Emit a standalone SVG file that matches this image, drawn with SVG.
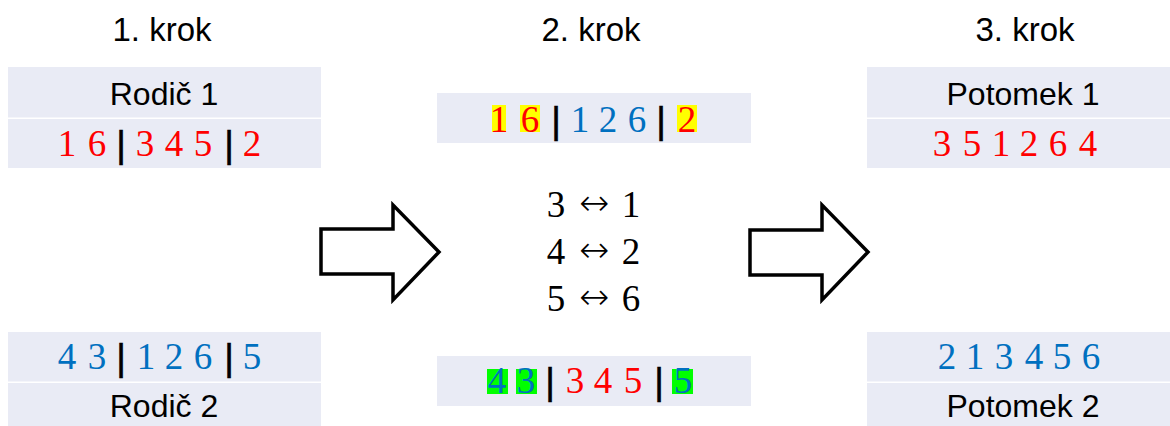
<svg xmlns="http://www.w3.org/2000/svg" width="1170" height="426" viewBox="0 0 1170 426">
<style>
.box{fill:#E9EBF5}
.lbl{font-family:"Liberation Sans",Arial,sans-serif;font-size:32px;fill:#000;text-anchor:middle}
.ttl{font-family:"Liberation Sans",Arial,sans-serif;font-size:33px;fill:#000;text-anchor:middle}
.d{font-family:"Liberation Serif","Times New Roman",serif;font-size:37px;text-anchor:middle}
.r{fill:#FF0000}
.b{fill:#0070C0}
.bar{font-family:"Liberation Sans",Arial,sans-serif;font-size:37px;fill:#000;stroke:#000;stroke-width:0.6;text-anchor:middle}
.hy{fill:#FFFF00}
.hg{fill:#00FF00}
.arrow{fill:#fff;stroke:#000;stroke-width:3.5;stroke-linejoin:miter}
.sw{font-family:"Liberation Serif","DejaVu Serif",serif;font-size:37px;fill:#000;text-anchor:middle}
.ar{font-family:"DejaVu Sans",sans-serif;font-weight:200;font-size:36px;fill:#000;text-anchor:middle}
</style>
<rect width="1170" height="426" fill="#fff"/>

<g id="titles">
<text class="ttl" x="162" y="41">1. krok</text>
<text class="ttl" x="591" y="41">2. krok</text>
<text class="ttl" x="1025" y="41">3. krok</text>
</g>

<g id="parent1">
<rect class="box" x="8" y="67" width="313" height="50.5"/>
<rect class="box" x="8" y="119" width="313" height="49"/>
<text class="lbl" x="164" y="105">Rodič 1</text>
<g class="d r">
<text x="67" y="156">1</text><text x="97" y="156">6</text>
<text x="145" y="156">3</text><text x="174" y="156">4</text><text x="203" y="156">5</text>
<text x="252" y="156">2</text>
</g>
<text class="bar" x="121" y="157">|</text>
<text class="bar" x="229" y="157">|</text>
</g>

<g id="parent2">
<rect class="box" x="8" y="332" width="313" height="49.5"/>
<rect class="box" x="8" y="383" width="313" height="50"/>
<g class="d b">
<text x="67" y="369">4</text><text x="97" y="369">3</text>
<text x="146" y="369">1</text><text x="174" y="369">2</text><text x="203" y="369">6</text>
<text x="252" y="369">5</text>
</g>
<text class="bar" x="121" y="370">|</text>
<text class="bar" x="229" y="370">|</text>
<text class="lbl" x="164" y="417">Rodič 2</text>
</g>

<g id="mid-top">
<rect class="box" x="437" y="93" width="314" height="50"/>
<rect class="hy" x="492" y="105" width="14" height="27"/>
<rect class="hy" x="520" y="105" width="20" height="27"/>
<rect class="hy" x="677" y="105" width="20" height="27"/>
<g class="d">
<text class="r" x="499" y="132">1</text><text class="r" x="530" y="132">6</text>
<text class="b" x="580" y="132">1</text><text class="b" x="608" y="132">2</text><text class="b" x="637" y="132">6</text>
<text class="r" x="687" y="132">2</text>
</g>
<text class="bar" x="556" y="133">|</text>
<text class="bar" x="661" y="133">|</text>
</g>

<g id="swaps">
<text class="sw" x="556" y="217">3</text><text class="ar" x="594" y="215">↔</text><text class="sw" x="631" y="217">1</text>
<text class="sw" x="556" y="264">4</text><text class="ar" x="594" y="262">↔</text><text class="sw" x="631" y="264">2</text>
<text class="sw" x="556" y="311">5</text><text class="ar" x="594" y="309">↔</text><text class="sw" x="631" y="311">6</text>
</g>

<g id="mid-bottom">
<rect class="box" x="437" y="356" width="314" height="50"/>
<rect class="hg" x="487" y="369" width="21" height="25"/>
<rect class="hg" x="516" y="369" width="21" height="25"/>
<rect class="hg" x="672" y="369" width="21" height="25"/>
<g class="d">
<text class="b" x="497" y="393">4</text><text class="b" x="526" y="393">3</text>
<text class="r" x="575" y="393">3</text><text class="r" x="603" y="393">4</text><text class="r" x="633" y="393">5</text>
<text class="b" x="683" y="393">5</text>
</g>
<text class="bar" x="550" y="394">|</text>
<text class="bar" x="659" y="394">|</text>
</g>

<g id="child1">
<rect class="box" x="867" y="67" width="303" height="50.5"/>
<rect class="box" x="867" y="119" width="303" height="49"/>
<text class="lbl" x="1023" y="105">Potomek 1</text>
<g class="d r">
<text x="942" y="156">3</text><text x="972" y="156">5</text><text x="1001" y="156">1</text>
<text x="1029" y="156">2</text><text x="1058" y="156">6</text><text x="1088" y="156">4</text>
</g>
</g>

<g id="child2">
<rect class="box" x="867" y="332" width="303" height="49.5"/>
<rect class="box" x="867" y="383" width="303" height="50"/>
<g class="d b">
<text x="947" y="369">2</text><text x="975" y="369">1</text><text x="1004" y="369">3</text>
<text x="1034" y="369">4</text><text x="1062" y="369">5</text><text x="1091" y="369">6</text>
</g>
<text class="lbl" x="1023" y="417">Potomek 2</text>
</g>

<g id="connectors">
<path class="arrow" d="M321,229 H393 V205 L439,252 L393,300 V274 H321 Z"/>
<path class="arrow" d="M750,230 H822 V205 L868,252 L822,300 V275 H750 Z"/>
</g>
</svg>
